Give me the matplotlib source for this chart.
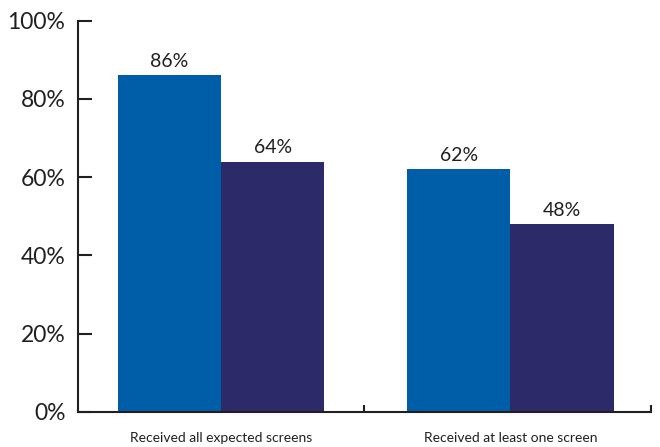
import matplotlib
matplotlib.use("Agg")
import matplotlib.pyplot as plt
import numpy as np

categories = ["Received all expected screens", "Received at least one screen"]
series_a = [86, 62]
series_b = [64, 48]
yticks = [0, 20, 40, 60, 80, 100]

plt.rcParams['font.family'] = ['Lato', 'DejaVu Sans']

fig = plt.figure(figsize=(6.6, 4.47), dpi=100)
ax = fig.add_axes([0.118, 0.0783, 0.868, 0.8754])

blue = "#005EA8"
navy = "#2D2A6A"
dark = "#231F20"

centers = np.array([0.5, 1.51])
w = 0.36
ax.bar(centers - w / 2, series_a, width=w, color=blue, linewidth=0)
ax.bar(centers + w / 2, series_b, width=w, color=navy, linewidth=0)

for c, a, b in zip(centers, series_a, series_b):
    ax.text(c - w / 2, a + 1.3, f"{a}%", ha="center", va="bottom", fontsize=14, color=dark)
    ax.text(c + w / 2, b + 1.3, f"{b}%", ha="center", va="bottom", fontsize=14, color=dark)

ax.set_xlim(0, 2)
ax.set_ylim(0, 100)
ax.set_yticks(yticks)
ax.set_yticklabels([f"{t}%" for t in yticks], fontsize=16.5, color=dark)
ax.tick_params(axis="y", direction="in", length=10, width=1.5, color=dark, pad=9)

ax.set_xticks([1.0, 2.0])
ax.set_xticklabels([])
ax.tick_params(axis="x", direction="in", length=5, width=1.5, color=dark)
for c, lab in zip(centers, categories):
    ax.text(c, -6.7, lab, ha="center", va="center", fontsize=10, color=dark,
            transform=ax.transData, clip_on=False)

for s in ["top", "right"]:
    ax.spines[s].set_visible(False)
for s in ["left", "bottom"]:
    ax.spines[s].set_linewidth(1.5)
    ax.spines[s].set_color(dark)

fig.savefig("out.png", dpi=100)
